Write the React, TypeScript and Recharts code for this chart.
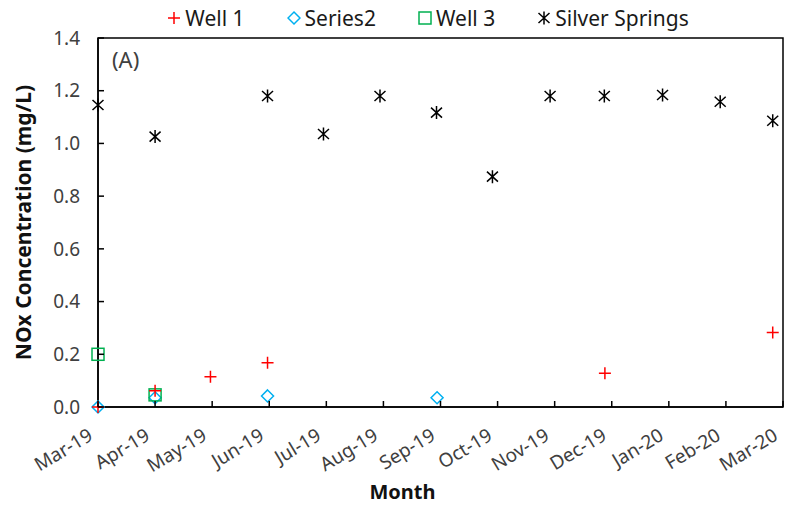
import React from 'react';
import { ScatterChart, Scatter, XAxis, YAxis, ReferenceArea, Legend, Label } from 'recharts';

// Month tick labels (x positions are month offsets from Mar-19)
const monthLabels = [
  'Mar-19', 'Apr-19', 'May-19', 'Jun-19', 'Jul-19', 'Aug-19', 'Sep-19',
  'Oct-19', 'Nov-19', 'Dec-19', 'Jan-20', 'Feb-20', 'Mar-20',
];
const monthTicks = monthLabels.map((_, i) => i);
const yTicks = [0, 0.2, 0.4, 0.6, 0.8, 1.0, 1.2, 1.4];

// Sampling positions (month offset) and NOx concentrations (mg/L)
const well1Month = [0, 1.0, 1.97, 2.97, 8.88, 11.82];
const well1NOx = [0.0, 0.062, 0.115, 0.168, 0.128, 0.283];

const series2Month = [0, 1.0, 2.97, 5.94];
const series2NOx = [0.0, 0.035, 0.042, 0.035];

const well3Month = [0, 1.0];
const well3NOx = [0.2, 0.046];

const silverMonth = [0, 1.0, 2.97, 3.95, 4.94, 5.93, 6.91, 7.92, 8.87, 9.89, 10.9, 11.82];
const silverNOx = [1.146, 1.026, 1.18, 1.036, 1.18, 1.117, 0.874, 1.18, 1.18, 1.184, 1.158, 1.086];

const toPoints = (xs: number[], ys: number[]) => xs.map((x, i) => ({ x, y: ys[i] }));

const FONT = "'Noto Sans', sans-serif";
const TICK_COLOR = '#404040';
const TITLE_COLOR = '#111';

type MarkProps = { cx?: number; cy?: number };

const PlusMark = ({ cx = 0, cy = 0 }: MarkProps) => (
  <path
    d={`M${cx - 6},${cy}H${cx + 6}M${cx},${cy - 6}V${cy + 6}`}
    stroke="#ff0000"
    strokeWidth={1.5}
    fill="none"
  />
);

const DiamondMark = ({ cx = 0, cy = 0 }: MarkProps) => (
  <path
    d={`M${cx},${cy - 6}L${cx + 6},${cy}L${cx},${cy + 6}L${cx - 6},${cy}Z`}
    stroke="#00b0f0"
    strokeWidth={1.5}
    fill="none"
  />
);

const SquareMark = ({ cx = 0, cy = 0 }: MarkProps) => (
  <rect x={cx - 6} y={cy - 6} width={12} height={12} stroke="#00b050" strokeWidth={1.5} fill="none" />
);

const StarMark = ({ cx = 0, cy = 0 }: MarkProps) => (
  <path
    d={`M${cx - 5.5},${cy - 5}L${cx + 5.5},${cy + 5}M${cx + 5.5},${cy - 5}L${cx - 5.5},${cy + 5}M${cx},${cy - 6.5}V${cy + 6.5}`}
    stroke="#000"
    strokeWidth={1.5}
    fill="none"
  />
);

const seriesList = [
  { name: 'Well 1', data: toPoints(well1Month, well1NOx), Mark: PlusMark },
  { name: 'Series2', data: toPoints(series2Month, series2NOx), Mark: DiamondMark },
  { name: 'Well 3', data: toPoints(well3Month, well3NOx), Mark: SquareMark },
  { name: 'Silver Springs', data: toPoints(silverMonth, silverNOx), Mark: StarMark },
];

// Paint order: overlapping wells at the start of the record keep the red crosses on top
const drawOrder = ['Series2', 'Well 3', 'Well 1', 'Silver Springs'];

const XTick = (props: any) => {
  const { x, y, payload } = props;
  const tx = x - 4;
  const ty = y + 32;
  return (
    <g>
      <line x1={x} y1={y} x2={x} y2={y - 6} stroke="#000" strokeWidth={1.5} />
      <text
        x={tx}
        y={ty}
        textAnchor="end"
        transform={`rotate(-31, ${tx}, ${ty})`}
        fontFamily={FONT}
        fontSize={19}
        fill={TICK_COLOR}
      >
        {monthLabels[payload.value]}
      </text>
    </g>
  );
};

const YTick = (props: any) => {
  const { x, y, payload } = props;
  return (
    <g>
      <line x1={x} y1={y} x2={x + 6} y2={y} stroke="#000" strokeWidth={1.5} />
      <text x={x - 18} y={y} dy="0.35em" textAnchor="end" fontFamily={FONT} fontSize={19} fill={TICK_COLOR}>
        {Number(payload.value).toFixed(1)}
      </text>
    </g>
  );
};

const renderLegend = () => (
  <div
    style={{
      display: 'flex',
      justifyContent: 'center',
      alignItems: 'center',
      paddingLeft: 68,
      height: 36,
      fontFamily: FONT,
      fontSize: 21,
      color: '#1a1a1a',
    }}
  >
    {seriesList.map(({ name, Mark }, i) => (
      <div
        key={name}
        style={{ display: 'flex', alignItems: 'center', marginRight: i < seriesList.length - 1 ? 42 : 0 }}
      >
        <svg width={14} height={16} style={{ marginRight: 4 }}>
          <Mark cx={7} cy={8} />
        </svg>
        <span>{name}</span>
      </div>
    ))}
  </div>
);

export default function App() {
  const ordered = drawOrder.map((n) => seriesList.find((s) => s.name === n)!);
  return (
    <div style={{ position: 'absolute', left: 0, top: 0, background: '#fff' }}>
      <ScatterChart width={788} height={508} margin={{ top: 8, right: 5, bottom: 0, left: 0 }}>
        <Legend verticalAlign="top" height={30} content={renderLegend} wrapperStyle={{ top: 0, left: 0, width: 788 }} />
        <XAxis
          type="number"
          dataKey="x"
          domain={[0, 12]}
          ticks={monthTicks}
          height={101}
          tickSize={0}
          tickMargin={0}
          tickLine={false}
          axisLine={{ stroke: '#000', strokeWidth: 1.5 }}
          tick={<XTick />}
          interval={0}
        >
          <Label
            content={(p: any) => {
              const vb = p.viewBox || { x: 98, y: 407, width: 685 };
              return (
                <text
                  x={vb.x + vb.width / 2 - 38}
                  y={492}
                  dy="0.35em"
                  textAnchor="middle"
                  fontFamily={FONT}
                  fontWeight="bold"
                  fontSize={20}
                  fill={TITLE_COLOR}
                >
                  Month
                </text>
              );
            }}
          />
        </XAxis>
        <YAxis
          type="number"
          dataKey="y"
          domain={[0, 1.4]}
          ticks={yTicks}
          width={98}
          tickSize={0}
          tickMargin={0}
          tickLine={false}
          axisLine={{ stroke: '#000', strokeWidth: 1.5 }}
          tick={<YTick />}
          interval={0}
        >
          <Label
            content={(p: any) => {
              const vb = p.viewBox || { x: 0, y: 38, height: 369 };
              const cy = vb.y + vb.height / 2;
              return (
                <text
                  x={24}
                  y={cy}
                  dy="0.35em"
                  textAnchor="middle"
                  transform={`rotate(-90, 24, ${cy})`}
                  fontFamily={FONT}
                  fontWeight="bold"
                  fontSize={21}
                  fill={TITLE_COLOR}
                >
                  NOx Concentration (mg/L)
                </text>
              );
            }}
          />
        </YAxis>
        <ReferenceArea
          x1={0}
          x2={12}
          y1={0}
          y2={1.4}
          fill="none"
          fillOpacity={0}
          stroke="#000"
          strokeWidth={1.5}
          ifOverflow="visible"
          label={{ value: '(A)', position: 'insideTopLeft', offset: 14, fontSize: 22, fill: '#404040', fontFamily: FONT }}
        />
        {ordered.map(({ name, data, Mark }) => (
          <Scatter
            key={name}
            name={name}
            data={data}
            isAnimationActive={false}
            shape={(p: any) => <Mark cx={p.cx} cy={p.cy} />}
          />
        ))}
      </ScatterChart>
    </div>
  );
}
